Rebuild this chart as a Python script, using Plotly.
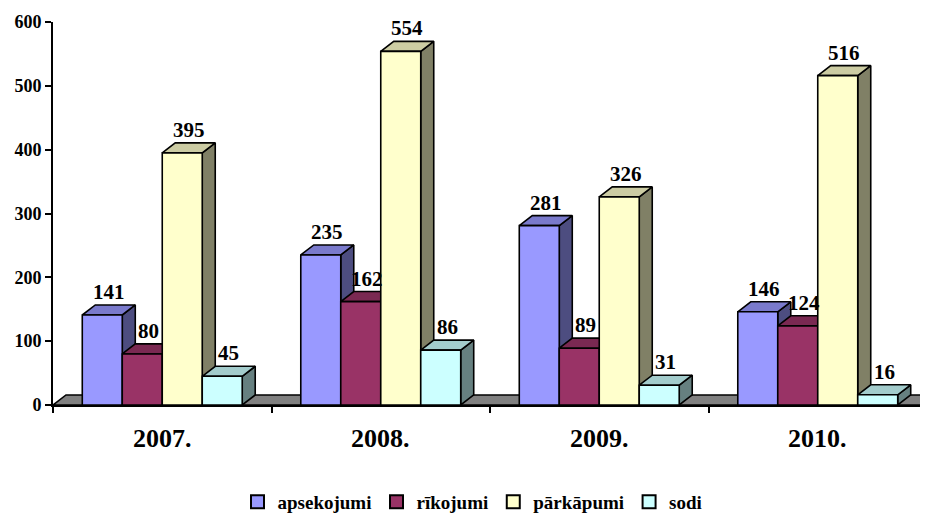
import plotly.graph_objects as go

categories = ["2007.", "2008.", "2009.", "2010."]
series_names = ["apsekojumi", "rīkojumi", "pārkāpumi", "sodi"]
apsekojumi = [141, 235, 281, 146]
rikojumi = [80, 162, 89, 124]
parkapumi = [395, 554, 326, 516]
sodi = [45, 86, 31, 16]
y_ticks = [0, 100, 200, 300, 400, 500, 600]

series_values = [apsekojumi, rikojumi, parkapumi, sodi]
front_colors = ["#9999FF", "#993366", "#FFFFCC", "#CCFFFF"]
top_colors = ["#7A7ACC", "#7A2952", "#CCCCA3", "#A3CCCC"]
side_colors = ["#4D4D80", "#4D1A33", "#808066", "#668080"]

FONT = "Times New Roman"
W = 0.183      # bar width in category units
DX = 0.0595    # depth offset (x, category units)
DY = 15.7      # depth offset (y, value units)

fig = go.Figure()


def poly(xs, ys, color):
    fig.add_trace(go.Scatter(
        x=xs + [xs[0]], y=ys + [ys[0]], mode="lines", fill="toself",
        fillcolor=color, line=dict(color="black", width=1.6),
        hoverinfo="skip", showlegend=False))


n = len(categories)
poly([0, n, n + DX, DX], [0, 0, DY, DY], "#808080")

annotations = []
for i, cat in enumerate(categories):
    for j, vals in enumerate(series_values):
        v = vals[i]
        x0 = i + 0.5 - 2 * W + j * W
        x1 = x0 + W
        poly([x1, x1 + DX, x1 + DX, x1], [0, DY, v + DY, v], side_colors[j])
        poly([x0, x1, x1 + DX, x0 + DX], [v, v, v + DY, v + DY], top_colors[j])
        poly([x0, x1, x1, x0], [0, 0, v, v], front_colors[j])
        annotations.append(dict(
            x=(x0 + x1) / 2 + DX / 2, y=v + DY, xref="x", yref="y",
            text="<b>%d</b>" % v, showarrow=False, yanchor="bottom", yshift=-1,
            font=dict(family=FONT, size=21, color="black")))
    annotations.append(dict(
        x=i + 0.5, y=0, xref="x", yref="paper", text="<b>%s</b>" % cat,
        showarrow=False, yanchor="middle", yshift=-33,
        font=dict(family=FONT, size=26, color="black")))

for j, name in enumerate(series_names):
    fig.add_trace(go.Scatter(
        x=[None], y=[None], mode="markers", name="<b>%s</b>" % name,
        marker=dict(symbol="square", size=13, color=front_colors[j],
                    line=dict(color="black", width=2))))

fig.update_layout(
    width=920, height=507,
    font=dict(family=FONT, color="black"),
    margin=dict(l=45, r=1, t=14, b=110, autoexpand=False),
    paper_bgcolor="white", plot_bgcolor="white",
    annotations=annotations,
    showlegend=True,
    legend=dict(orientation="h", x=0.48, xanchor="center", y=-0.253,
                yanchor="middle", itemwidth=30,
                font=dict(family=FONT, size=19, color="black")),
    xaxis=dict(range=[0, n], tickvals=list(range(n + 1)), showticklabels=False,
               ticks="outside", ticklen=6, tickwidth=2, tickcolor="black",
               showline=True, linecolor="black", linewidth=2,
               showgrid=False, zeroline=False, fixedrange=True),
    yaxis=dict(range=[0, 600], tickvals=y_ticks,
               ticktext=["<b>%d</b>" % t for t in y_ticks],
               ticks="outside", ticklen=6,
               tickwidth=2, tickcolor="black",
               showline=True, linecolor="black", linewidth=2,
               showgrid=False, zeroline=False,
               tickfont=dict(family=FONT, size=18, color="black")),
)

fig.write_html("out.html")
